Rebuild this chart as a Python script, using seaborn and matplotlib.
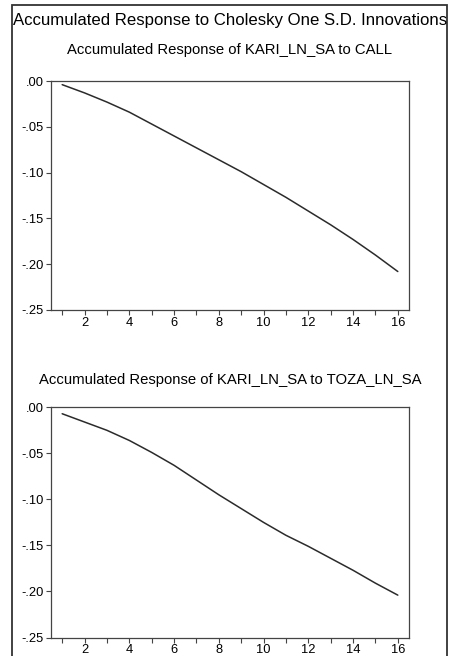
import matplotlib
matplotlib.use("Agg")
import matplotlib.pyplot as plt
from matplotlib.patches import Rectangle
from matplotlib.ticker import FuncFormatter, MultipleLocator
import numpy as np
import pandas as pd
import seaborn as sns

# Accumulated impulse responses over 16 periods
periods = list(range(1, 17))
resp_call = [-0.004, -0.013, -0.023, -0.034, -0.047, -0.060, -0.073, -0.086,
             -0.099, -0.113, -0.127, -0.142, -0.157, -0.173, -0.190, -0.208]
resp_toza = [-0.007, -0.016, -0.025, -0.036, -0.049, -0.063, -0.079, -0.095,
             -0.110, -0.125, -0.139, -0.151, -0.164, -0.177, -0.191, -0.204]

main_title = "Accumulated Response to Cholesky One S.D. Innovations"
panel_titles = ["Accumulated Response of KARI_LN_SA to CALL",
                "Accumulated Response of KARI_LN_SA to TOZA_LN_SA"]
y_ticks = [0.00, -0.05, -0.10, -0.15, -0.20, -0.25]
x_tick_labels = [2, 4, 6, 8, 10, 12, 14, 16]

sns.set_style("ticks")
plt.rcParams["font.family"] = ["Liberation Sans", "DejaVu Sans"]

W, H = 452, 656
fig = plt.figure(figsize=(W / 100, H / 100), dpi=100)
fig.patch.set_facecolor("white")

# outer frame
fig.patches.append(Rectangle((12.5 / W, -0.02), (447 - 12.5) / W, 1.02 - 5 / H,
                             transform=fig.transFigure, fill=False,
                             edgecolor="#333333", linewidth=1.3))

fig.text(230 / W, 1 - 21 / H, main_title, ha="center", va="center",
         fontsize=12.1, color="black")

def fmt(v, pos):
    s = f"{v:.2f}"
    if s.startswith("-0"):
        return "-" + s[2:]
    if s.startswith("0"):
        return s[1:]
    return s

panels = [
    (resp_call, 310, 81, 50),
    (resp_toza, 637.5, 407.3, 380),
]
for (vals, bot_px, top_px, title_px), title in zip(panels, panel_titles):
    ax = fig.add_axes([51 / W, 1 - bot_px / H, 358 / W, (bot_px - top_px) / H])
    df = pd.DataFrame({"period": periods, "response": vals})
    sns.lineplot(data=df, x="period", y="response", ax=ax,
                 color="#2b2b2b", linewidth=1.1)
    ax.set_xlim(0.5, 16.5)
    ax.set_ylim(-0.25, 0.0)
    ax.set_yticks(y_ticks)
    ax.yaxis.set_major_formatter(FuncFormatter(fmt))
    ax.set_xticks(x_tick_labels)
    ax.set_xticklabels([str(v) for v in x_tick_labels])
    ax.xaxis.set_minor_locator(MultipleLocator(1))
    ax.tick_params(axis="both", which="both", direction="out", length=3.5,
                   width=0.8, color="#444444", labelsize=9.3, labelcolor="black",
                   pad=1.5)
    ax.set_xlabel("")
    ax.set_ylabel("")
    for s in ax.spines.values():
        s.set_visible(True)
        s.set_color("#444444")
        s.set_linewidth(0.9)
    fig.text(230 / W, 1 - title_px / H, title, ha="center", va="center",
             fontsize=10.7, color="black")

fig.savefig("out.png", dpi=100, facecolor="white")
